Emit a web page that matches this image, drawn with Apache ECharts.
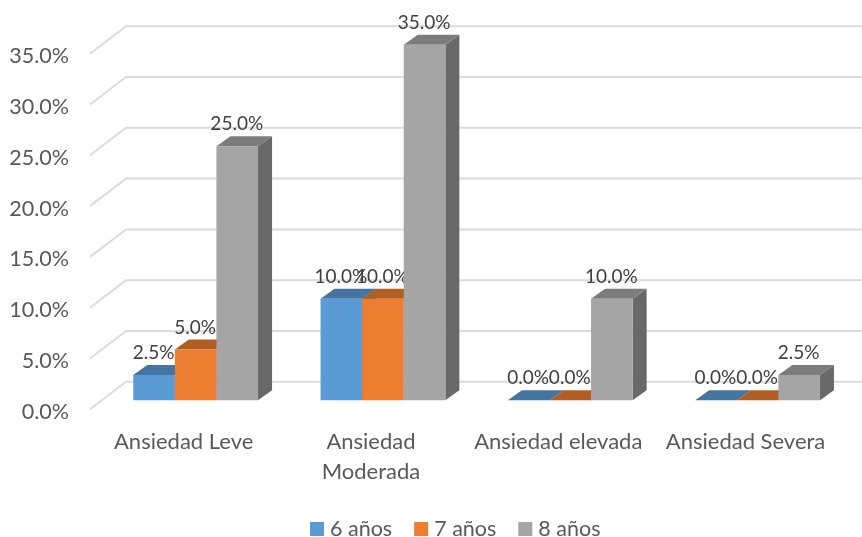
<!DOCTYPE html>
<html>
<head>
<meta charset="utf-8">
<style>html,body{margin:0;padding:0;background:#fff}#chart{width:862px;height:537px}</style>
<script src="https://cdn.jsdelivr.net/npm/echarts@6/dist/echarts.min.js"></script>
</head>
<body>
<div id="chart"></div>
<script>
const categories = ['Ansiedad Leve', 'Ansiedad\nModerada', 'Ansiedad elevada', 'Ansiedad Severa'];
const yTicks = [0, 5, 10, 15, 20, 25, 30, 35];
const seriesNames = ['6 años', '7 años', '8 años'];
const values6 = [2.5, 10, 0, 0];
const values7 = [5, 10, 0, 0];
const values8 = [25, 35, 10, 2.5];

const FONT = 'Lato';
// Oblique offsets of the 3D look: wall depth, bar inset from the front edge, bar depth.
const WALL = [36, -27.5];
const INSET = [12, -9];
const DEPTH = [14, -10];
const BAR_WIDTH = 41.6;

const palette = [
  { front: '#5B9BD5', top: '#44749F', side: '#3B6590' },
  { front: '#ED7D31', top: '#B15E25', side: '#A05520' },
  { front: '#A5A5A5', top: '#7C7C7C', side: '#696969' }
];

const fmt = v => v.toFixed(1) + '%';

function wallLines(params, api) {
  const p = api.coord([0, api.value(1)]);
  const left = params.coordSys.x;
  const right = left + params.coordSys.width;
  return {
    type: 'polyline',
    shape: { points: [[left, p[1]], [left + WALL[0], p[1] + WALL[1]], [right + WALL[0], p[1] + WALL[1]]] },
    style: { fill: null, stroke: '#DCDCDC', lineWidth: 2 },
    z2: 0
  };
}

function barRenderer(idx) {
  const c = palette[idx];
  return function (params, api) {
    const cat = api.value(0);
    const v = api.value(1);
    const b = api.coord([cat, 0]);
    const t = api.coord([cat, v]);
    const x0 = b[0] + INSET[0] + (idx - 1.5) * BAR_WIDTH;
    const x1 = x0 + BAR_WIDTH;
    const yb = b[1] + INSET[1];
    const yt = t[1] + INSET[1];
    const dx = DEPTH[0], dy = DEPTH[1];
    const children = [
      { type: 'polygon', shape: { points: [[x1, yt], [x1 + dx, yt + dy], [x1 + dx, yb + dy], [x1, yb]] }, style: { fill: c.side } },
      { type: 'polygon', shape: { points: [[x0, yt], [x0 + dx, yt + dy], [x1 + dx, yt + dy], [x1, yt]] }, style: { fill: c.top } }
    ];
    if (v > 0) {
      children.push({ type: 'rect', shape: { x: x0, y: yt, width: BAR_WIDTH, height: yb - yt }, style: { fill: c.front } });
    }
    children.push({
      type: 'text',
      z2: 50,
      style: {
        text: fmt(v), x: (x0 + x1) / 2 - 0.5, y: yt - 22,
        align: 'center', verticalAlign: 'middle',
        font: '19px ' + FONT, fill: '#404040'
      }
    });
    return { type: 'group', children };
  };
}

const toData = arr => arr.map((v, i) => [i, v]);

const chart = echarts.init(document.getElementById('chart'), null, { renderer: 'canvas' });
chart.setOption({
  animation: false,
  backgroundColor: '#fff',
  grid: { left: 90, top: 53.7, width: 749.2, height: 355.6, containLabel: false },
  xAxis: {
    type: 'category',
    data: categories,
    axisLine: { show: false },
    axisTick: { show: false },
    axisLabel: { interval: 0, margin: 18, fontFamily: FONT, fontSize: 22, color: '#595959', lineHeight: 30 }
  },
  yAxis: {
    type: 'value', min: 0, max: 35, interval: 5,
    axisLine: { show: false },
    axisTick: { show: false },
    splitLine: { show: false },
    // A short line box anchored at the tick drops each label a little below its gridline.
    axisLabel: { margin: 21, fontFamily: FONT, fontSize: 21.5, color: '#595959', formatter: fmt, verticalAlign: 'top', lineHeight: 5 }
  },
  legend: {
    left: 305, top: 513, icon: 'rect', itemWidth: 14, itemHeight: 14, itemGap: 22,
    data: seriesNames,
    textStyle: { fontFamily: FONT, fontSize: 21.5, color: '#595959', padding: [0, 0, 0, 1] }
  },
  series: [
    { type: 'custom', name: 'wall', silent: true, z: 1, renderItem: wallLines, data: yTicks.map(t => [0, t]), encode: { x: 0, y: 1 } }
  ].concat([values6, values7, values8].map((vals, i) => ({
    type: 'custom',
    name: seriesNames[i],
    z: 2 + i,
    itemStyle: { color: palette[i].front },
    renderItem: barRenderer(i),
    data: toData(vals),
    encode: { x: 0, y: 1 }
  })))
});
</script>
</body>
</html>
